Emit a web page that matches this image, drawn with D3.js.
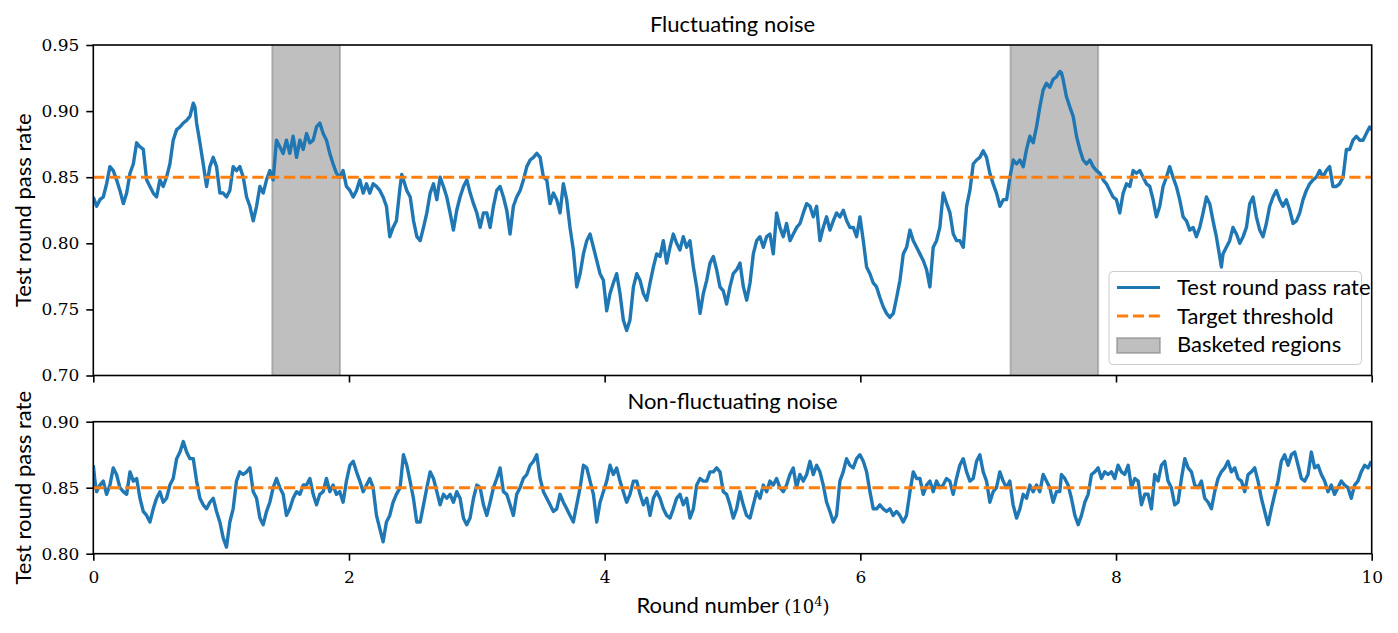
<!DOCTYPE html>
<html><head><meta charset="utf-8">
<script src="https://cdn.jsdelivr.net/npm/d3@7"></script>
<style>body{margin:0;background:#fff}svg{display:block}</style>
</head><body>
<svg id="chart" width="1398" height="633"></svg>
<script>
// ---------- data (round number in units of 10^4, pass rate) ----------
const xTicks = [0, 2, 4, 6, 8, 10];
const fluctuatingYTicks = [0.70, 0.75, 0.80, 0.85, 0.90, 0.95];
const nonFluctuatingYTicks = [0.80, 0.85, 0.90];
const targetThreshold = 0.85;
const basketedRegions = [[1.40, 1.93], [7.175, 7.86]];

const fluctuatingSeries = [
[0.000,.835],[0.026,.828],[0.052,.833],[0.078,.835],[0.104,.845],[0.130,.858],[0.156,.855],[0.182,.848],[0.208,.840],[0.235,.830],[0.261,.838],[0.287,.853],[0.313,.860],[0.339,.876],[0.365,.873],[0.391,.871],[0.417,.848],[0.443,.843],[0.469,.838],[0.495,.835],[0.521,.848],[0.547,.843],[0.573,.850],[0.599,.860],[0.625,.878],[0.652,.886],[0.678,.888],[0.704,.891],[0.730,.893],[0.756,.896],[0.782,.906],[0.795,.903],[0.808,.891],[0.834,.876],[0.860,.860],[0.886,.843],[0.912,.858],[0.938,.865],[0.964,.858],[0.990,.838],[1.016,.838],[1.042,.835],[1.068,.840],[1.094,.858],[1.120,.855],[1.146,.858],[1.173,.850],[1.199,.835],[1.225,.828],[1.251,.817],[1.277,.828],[1.303,.843],[1.329,.838],[1.355,.848],[1.381,.855],[1.407,.848],[1.433,.878],[1.459,.873],[1.485,.868],[1.511,.878],[1.537,.868],[1.563,.881],[1.590,.865],[1.616,.878],[1.642,.871],[1.668,.883],[1.694,.876],[1.720,.878],[1.746,.888],[1.772,.891],[1.798,.883],[1.824,.878],[1.850,.868],[1.876,.860],[1.902,.853],[1.928,.850],[1.954,.855],[1.980,.843],[2.007,.840],[2.033,.835],[2.059,.840],[2.085,.848],[2.111,.838],[2.137,.845],[2.163,.838],[2.189,.845],[2.215,.843],[2.241,.840],[2.267,.835],[2.293,.828],[2.319,.805],[2.345,.812],[2.371,.817],[2.400,.843],
[2.413,.852],[2.426,.848],[2.452,.840],[2.479,.835],[2.505,.817],[2.531,.805],[2.557,.802],[2.583,.812],[2.609,.823],[2.635,.838],[2.661,.845],[2.687,.833],[2.713,.850],[2.739,.843],[2.765,.835],[2.791,.823],[2.817,.810],[2.843,.825],[2.869,.835],[2.896,.843],[2.922,.848],[2.948,.838],[2.974,.830],[3.000,.823],[3.026,.812],[3.052,.823],[3.078,.823],[3.104,.812],[3.130,.828],[3.156,.840],[3.182,.843],[3.208,.835],[3.234,.825],[3.260,.807],[3.286,.828],[3.312,.835],[3.339,.840],[3.365,.848],[3.391,.858],[3.417,.863],[3.443,.865],[3.469,.868],[3.495,.865],[3.521,.850],[3.547,.848],[3.573,.830],[3.599,.838],[3.625,.833],[3.651,.823],[3.677,.845],[3.703,.833],[3.729,.812],[3.755,.795],[3.782,.767],[3.808,.777],[3.834,.792],[3.860,.802],[3.886,.807],[3.912,.797],[3.938,.787],[3.964,.777],[3.990,.772],[4.016,.749],[4.042,.762],[4.068,.770],[4.094,.777],[4.120,.762],[4.146,.742],[4.172,.734],[4.198,.742],[4.225,.767],[4.251,.777],[4.277,.772],[4.303,.762],[4.329,.757],[4.355,.770],[4.381,.782],[4.407,.792],[4.433,.790],[4.459,.802],[4.485,.785],[4.511,.797],[4.537,.807],[4.563,.800],[4.589,.795],[4.615,.805],[4.641,.797],[4.667,.802],[4.694,.782],[4.720,.767],[4.746,.747],[4.772,.762],[4.798,.772],[4.824,.785],[4.850,.790],[4.876,.780],[4.902,.767],
[4.928,.764],[4.954,.754],[4.980,.767],[5.006,.777],[5.033,.780],[5.059,.785],[5.085,.767],[5.111,.757],[5.137,.770],[5.163,.792],[5.189,.802],[5.215,.805],[5.241,.797],[5.267,.805],[5.293,.807],[5.319,.792],[5.345,.823],[5.371,.812],[5.397,.805],[5.423,.815],[5.450,.802],[5.476,.807],[5.502,.812],[5.528,.815],[5.554,.823],[5.580,.830],[5.606,.828],[5.632,.820],[5.658,.828],[5.684,.802],[5.710,.812],[5.736,.820],[5.762,.810],[5.788,.817],[5.814,.823],[5.840,.820],[5.867,.825],[5.893,.817],[5.919,.812],[5.945,.812],[5.971,.805],[5.997,.820],[6.023,.802],[6.049,.782],[6.075,.777],[6.101,.770],[6.127,.767],[6.153,.759],[6.179,.752],[6.205,.747],[6.231,.744],[6.258,.747],[6.284,.759],[6.310,.772],[6.336,.792],[6.362,.797],[6.388,.810],[6.414,.802],[6.440,.797],[6.466,.792],[6.492,.787],[6.518,.780],[6.544,.767],[6.570,.797],[6.596,.802],[6.622,.812],[6.648,.838],[6.675,.830],[6.701,.823],[6.727,.807],[6.753,.802],[6.779,.802],[6.805,.797],[6.831,.828],[6.857,.840],[6.883,.860],[6.909,.863],[6.935,.865],[6.961,.870],[6.987,.865],[7.013,.853],[7.039,.845],[7.065,.838],[7.092,.828],[7.118,.833],[7.144,.833],[7.170,.850],[7.196,.863],[7.222,.860],[7.248,.863],[7.274,.858],[7.300,.871],[7.326,.881],[7.352,.876],[7.378,.888],[7.404,.903],
[7.430,.916],[7.456,.921],[7.482,.918],[7.508,.924],[7.534,.926],[7.560,.930],[7.573,.929],[7.586,.924],[7.612,.911],[7.639,.903],[7.665,.896],[7.691,.881],[7.717,.871],[7.743,.863],[7.769,.860],[7.795,.863],[7.821,.858],[7.847,.855],[7.873,.853],[7.899,.848],[7.925,.845],[7.951,.840],[7.977,.835],[8.003,.833],[8.029,.823],[8.056,.838],[8.082,.845],[8.108,.843],[8.134,.855],[8.160,.853],[8.186,.855],[8.212,.850],[8.238,.845],[8.264,.843],[8.290,.833],[8.316,.820],[8.342,.828],[8.368,.843],[8.394,.850],[8.420,.858],[8.446,.850],[8.472,.843],[8.498,.833],[8.525,.820],[8.551,.817],[8.577,.810],[8.603,.812],[8.629,.805],[8.655,.812],[8.681,.823],[8.707,.835],[8.733,.830],[8.759,.817],[8.785,.805],[8.811,.790],[8.824,.782],[8.837,.792],[8.863,.797],[8.889,.802],[8.915,.812],[8.942,.807],[8.968,.800],[8.994,.805],[9.020,.812],[9.046,.830],[9.072,.835],[9.098,.820],[9.124,.810],[9.150,.805],[9.176,.815],[9.202,.828],[9.228,.835],[9.254,.840],[9.280,.833],[9.306,.828],[9.332,.833],[9.359,.825],[9.385,.815],[9.411,.817],[9.437,.823],[9.463,.833],[9.489,.840],[9.515,.845],[9.541,.848],[9.567,.850],[9.593,.855],[9.619,.850],[9.645,.855],[9.671,.858],[9.697,.843],[9.723,.843],[9.749,.845],[9.776,.850],[9.802,.871],[9.828,.871],[9.854,.878],[9.880,.881],[9.906,.878],[9.932,.878],[9.958,.883],[9.984,.888],[10.000,.886]
];

const nonFluctuatingSeries = [
[0.000,.867],[0.013,.855],[0.026,.847],[0.052,.852],[0.078,.855],[0.104,.845],[0.130,.852],[0.156,.865],[0.182,.860],[0.208,.850],[0.235,.847],[0.261,.845],[0.287,.862],[0.313,.855],[0.339,.857],[0.365,.842],[0.391,.832],[0.417,.829],[0.443,.824],[0.469,.834],[0.495,.842],[0.521,.847],[0.547,.839],[0.573,.842],[0.599,.852],[0.625,.857],[0.652,.872],[0.678,.877],[0.704,.885],[0.730,.877],[0.756,.872],[0.782,.872],[0.808,.855],[0.834,.842],[0.860,.837],[0.886,.834],[0.912,.839],[0.938,.842],[0.964,.832],[0.990,.824],[1.016,.812],[1.042,.805],[1.068,.824],[1.094,.834],[1.120,.855],[1.146,.862],[1.173,.860],[1.199,.862],[1.225,.865],[1.251,.847],[1.277,.842],[1.303,.827],[1.329,.822],[1.355,.832],[1.381,.839],[1.407,.850],[1.433,.857],[1.459,.850],[1.485,.845],[1.511,.829],[1.537,.834],[1.563,.842],[1.590,.847],[1.616,.845],[1.642,.852],[1.668,.852],[1.694,.857],[1.720,.845],[1.746,.837],[1.772,.845],[1.798,.847],[1.824,.857],[1.850,.847],[1.876,.852],[1.902,.845],[1.928,.847],[1.954,.839],[1.980,.855],[2.007,.867],[2.033,.870],[2.059,.862],[2.085,.855],[2.111,.847],[2.137,.852],[2.163,.857],[2.189,.850],[2.215,.829],[2.241,.819],[2.267,.809],[2.293,.824],[2.319,.829],[2.345,.839],[2.371,.845],
[2.400,.850],[2.426,.875],[2.452,.867],[2.478,.855],[2.504,.842],[2.530,.824],[2.557,.824],[2.583,.837],[2.609,.850],[2.635,.862],[2.661,.857],[2.687,.847],[2.713,.837],[2.739,.845],[2.765,.842],[2.791,.845],[2.817,.839],[2.843,.847],[2.869,.842],[2.895,.827],[2.921,.822],[2.947,.827],[2.974,.842],[3.000,.852],[3.026,.850],[3.052,.837],[3.078,.829],[3.104,.839],[3.130,.850],[3.156,.857],[3.182,.865],[3.208,.847],[3.234,.845],[3.260,.837],[3.286,.829],[3.312,.845],[3.338,.850],[3.364,.857],[3.391,.860],[3.417,.867],[3.443,.870],[3.469,.875],[3.495,.857],[3.521,.847],[3.547,.842],[3.573,.837],[3.599,.832],[3.625,.834],[3.651,.845],[3.677,.839],[3.703,.834],[3.729,.829],[3.755,.824],[3.781,.837],[3.808,.850],[3.834,.867],[3.860,.865],[3.886,.855],[3.912,.845],[3.938,.824],[3.964,.839],[3.990,.847],[4.016,.855],[4.042,.867],[4.068,.860],[4.094,.865],[4.120,.855],[4.146,.847],[4.172,.839],[4.198,.845],[4.225,.855],[4.251,.855],[4.277,.845],[4.303,.837],[4.329,.842],[4.355,.829],[4.381,.842],[4.407,.847],[4.433,.842],[4.459,.834],[4.485,.829],[4.511,.827],[4.537,.834],[4.563,.842],[4.589,.845],[4.615,.837],[4.641,.842],[4.667,.827],[4.694,.834],[4.720,.852],[4.746,.857],[4.772,.855],[4.798,.855],[4.824,.862],[4.850,.862],[4.876,.865],[4.902,.862],[4.928,.847],[4.954,.845],[4.980,.837],
[5.006,.827],[5.032,.834],[5.058,.847],[5.084,.837],[5.110,.829],[5.137,.827],[5.163,.837],[5.189,.847],[5.215,.842],[5.241,.852],[5.267,.847],[5.293,.855],[5.319,.852],[5.345,.857],[5.371,.850],[5.397,.847],[5.423,.852],[5.449,.860],[5.475,.865],[5.501,.850],[5.527,.860],[5.554,.855],[5.580,.860],[5.606,.870],[5.632,.860],[5.658,.867],[5.684,.862],[5.710,.852],[5.736,.839],[5.762,.832],[5.788,.824],[5.814,.829],[5.840,.855],[5.866,.862],[5.892,.872],[5.918,.867],[5.944,.865],[5.971,.872],[5.997,.875],[6.023,.870],[6.049,.862],[6.075,.847],[6.101,.834],[6.127,.834],[6.153,.837],[6.179,.834],[6.205,.832],[6.231,.834],[6.257,.829],[6.283,.832],[6.309,.829],[6.335,.824],[6.361,.829],[6.388,.847],[6.414,.862],[6.440,.857],[6.466,.857],[6.492,.845],[6.518,.852],[6.544,.855],[6.570,.847],[6.596,.855],[6.622,.850],[6.648,.852],[6.674,.857],[6.700,.855],[6.726,.845],[6.752,.857],[6.778,.867],[6.805,.872],[6.831,.862],[6.857,.855],[6.883,.857],[6.909,.870],[6.935,.875],[6.961,.862],[6.987,.855],[7.013,.839],[7.039,.847],[7.065,.850],[7.091,.862],[7.117,.855],[7.143,.850],[7.169,.855],[7.195,.837],[7.222,.827],[7.248,.834],[7.274,.845],[7.300,.842],[7.326,.852],[7.352,.847],[7.378,.852],[7.404,.847],[7.430,.860],[7.456,.855],[7.482,.850],[7.508,.839],[7.534,.847],[7.560,.847],
[7.573,.860],[7.599,.857],[7.625,.852],[7.651,.842],[7.678,.829],[7.704,.822],[7.730,.829],[7.756,.839],[7.782,.845],[7.808,.860],[7.834,.862],[7.860,.865],[7.886,.857],[7.912,.862],[7.938,.860],[7.964,.862],[7.990,.857],[8.016,.867],[8.042,.862],[8.068,.860],[8.095,.867],[8.121,.850],[8.147,.857],[8.173,.855],[8.199,.837],[8.225,.845],[8.251,.845],[8.277,.834],[8.303,.860],[8.329,.855],[8.355,.867],[8.381,.870],[8.407,.855],[8.433,.850],[8.459,.837],[8.485,.839],[8.512,.857],[8.538,.872],[8.564,.865],[8.590,.862],[8.616,.852],[8.642,.850],[8.668,.855],[8.694,.842],[8.720,.839],[8.746,.834],[8.772,.847],[8.798,.857],[8.824,.862],[8.850,.865],[8.876,.870],[8.902,.862],[8.929,.865],[8.955,.857],[8.981,.855],[9.007,.847],[9.033,.860],[9.059,.862],[9.085,.865],[9.111,.855],[9.137,.842],[9.163,.832],[9.189,.822],[9.215,.834],[9.241,.845],[9.267,.855],[9.293,.870],[9.319,.875],[9.346,.867],[9.372,.875],[9.398,.877],[9.424,.867],[9.450,.857],[9.476,.855],[9.502,.860],[9.528,.877],[9.554,.865],[9.580,.867],[9.606,.860],[9.632,.855],[9.658,.847],[9.684,.852],[9.710,.845],[9.736,.850],[9.762,.855],[9.788,.852],[9.814,.850],[9.840,.842],[9.866,.852],[9.892,.855],[9.918,.862],[9.945,.867],[9.971,.865],[9.997,.870]
];

const panelTitles = ['Fluctuating noise', 'Non-fluctuating noise'];
const yAxisLabel = 'Test round pass rate';
const legendLabels = ['Test round pass rate', 'Target threshold', 'Basketed regions'];

// ---------- drawing ----------
const BLUE = '#1f77b4', ORANGE = '#ff7f0e';
const SANS = 'Lato, "Noto Sans", sans-serif';
const SERIF = '"DejaVu Serif", serif';
const svg = d3.select('#chart');
const plotLeft = 93.3, plotRight = 1371.7;
const x = d3.scaleLinear().domain([0, 10]).range([plotLeft, plotRight]);

const panels = [
  {top: 45, bottom: 375.5, domain: [0.70, 0.95], ticks: fluctuatingYTicks, series: fluctuatingSeries, regions: basketedRegions, title: panelTitles[0], xLabels: false},
  {top: 421.7, bottom: 553.7, domain: [0.80, 0.90], ticks: nonFluctuatingYTicks, series: nonFluctuatingSeries, regions: [], title: panelTitles[1], xLabels: true}
];

panels.forEach((p, i) => {
  const y = d3.scaleLinear().domain(p.domain).range([p.bottom, p.top]);
  const g = svg.append('g');
  const clipId = 'clip' + i;
  svg.append('clipPath').attr('id', clipId).append('rect')
    .attr('x', plotLeft).attr('y', p.top).attr('width', plotRight - plotLeft).attr('height', p.bottom - p.top);

  const plot = g.append('g').attr('clip-path', `url(#${clipId})`);
  plot.selectAll('rect.region').data(p.regions).join('rect').attr('class', 'region')
    .attr('x', d => x(d[0])).attr('width', d => x(d[1]) - x(d[0]))
    .attr('y', p.top - 2).attr('height', p.bottom - p.top + 4)
    .attr('fill', 'gray').attr('fill-opacity', 0.5)
    .attr('stroke', 'gray').attr('stroke-opacity', 0.5).attr('stroke-width', 2);

  const line = d3.line().x(d => x(d[0])).y(d => y(d[1]));
  plot.append('path').datum(p.series).attr('d', line)
    .attr('fill', 'none').attr('stroke', BLUE).attr('stroke-width', 3.4)
    .attr('stroke-linejoin', 'round');

  plot.append('line').attr('x1', x(0)).attr('x2', x(10))
    .attr('y1', y(targetThreshold)).attr('y2', y(targetThreshold))
    .attr('stroke', ORANGE).attr('stroke-width', 3).attr('stroke-dasharray', '11.1 4.8');

  // axes
  const yAxis = d3.axisLeft(y).tickValues(p.ticks).tickFormat(d3.format('.2f'))
    .tickSize(7).tickPadding(7).tickSizeOuter(0);
  const ya = g.append('g').attr('transform', `translate(${plotLeft},0)`).call(yAxis);
  const xAxis = d3.axisBottom(x).tickValues(xTicks).tickSize(7).tickPadding(10).tickSizeOuter(0)
    .tickFormat(p.xLabels ? d3.format('d') : () => '');
  const xa = g.append('g').attr('transform', `translate(0,${p.bottom})`).call(xAxis);
  [ya, xa].forEach(a => {
    a.select('.domain').remove();
    a.selectAll('.tick line').attr('stroke', '#000').attr('stroke-width', 1.6);
    a.selectAll('.tick text').attr('fill', '#000').style('font-family', SERIF).style('font-size', '17px');
  });

  // frame
  g.append('rect').attr('x', plotLeft).attr('y', p.top)
    .attr('width', plotRight - plotLeft).attr('height', p.bottom - p.top)
    .attr('fill', 'none').attr('stroke', '#000').attr('stroke-width', 1.6);

  // title
  g.append('text').attr('class', 'lbl').attr('x', (plotLeft + plotRight) / 2).attr('y', p.top - 13)
    .attr('text-anchor', 'middle').text(p.title);
  // y label
  g.append('text').attr('class', 'lbl')
    .attr('transform', `translate(31,${(p.top + p.bottom) / 2}) rotate(-90)`)
    .attr('text-anchor', 'middle').text(yAxisLabel);
});

// x label
const xl = svg.append('text').attr('x', 733).attr('y', 613).attr('text-anchor', 'middle');
xl.append('tspan').attr('class', 'lblspan').text('Round number ');
xl.append('tspan').style('font-family', SERIF).style('font-size', '18px').text('(10');
xl.append('tspan').style('font-family', SERIF).style('font-size', '13px').attr('dy', -7.5).text('4');
xl.append('tspan').style('font-family', SERIF).style('font-size', '18px').attr('dy', 7.5).text(')');

// legend
const lg = svg.append('g');
lg.append('rect').attr('x', 1109).attr('y', 271.5).attr('width', 252.5).attr('height', 93).attr('rx', 4)
  .attr('fill', '#fff').attr('fill-opacity', 0.8).attr('stroke', '#cccccc').attr('stroke-width', 1);
lg.append('line').attr('x1', 1117).attr('x2', 1160).attr('y1', 287.5).attr('y2', 287.5)
  .attr('stroke', BLUE).attr('stroke-width', 3);
lg.append('line').attr('x1', 1117).attr('x2', 1160).attr('y1', 316).attr('y2', 316)
  .attr('stroke', ORANGE).attr('stroke-width', 3).attr('stroke-dasharray', '11.1 4.8');
lg.append('rect').attr('x', 1117).attr('y', 338).attr('width', 43).attr('height', 15)
  .attr('fill', 'gray').attr('fill-opacity', 0.5).attr('stroke', 'gray').attr('stroke-opacity', 0.5).attr('stroke-width', 2);
lg.selectAll('text.leg').data(legendLabels).join('text').attr('class', 'lbl leg')
  .attr('x', 1177).attr('y', (d, i) => 295 + i * 28.5).text(d => d);

// font sizing for sans labels, fitted to the title width
const probe = svg.append('text').style('font-family', SANS).style('font-size', '20px').text(panelTitles[0]);
const w20 = probe.node().getComputedTextLength();
probe.remove();
const fs = Math.min(22, Math.max(17, 20 * 171 / w20));
svg.selectAll('.lbl, .lblspan').style('font-family', SANS).style('font-size', fs + 'px').attr('fill', '#000');
</script>
</body></html>
